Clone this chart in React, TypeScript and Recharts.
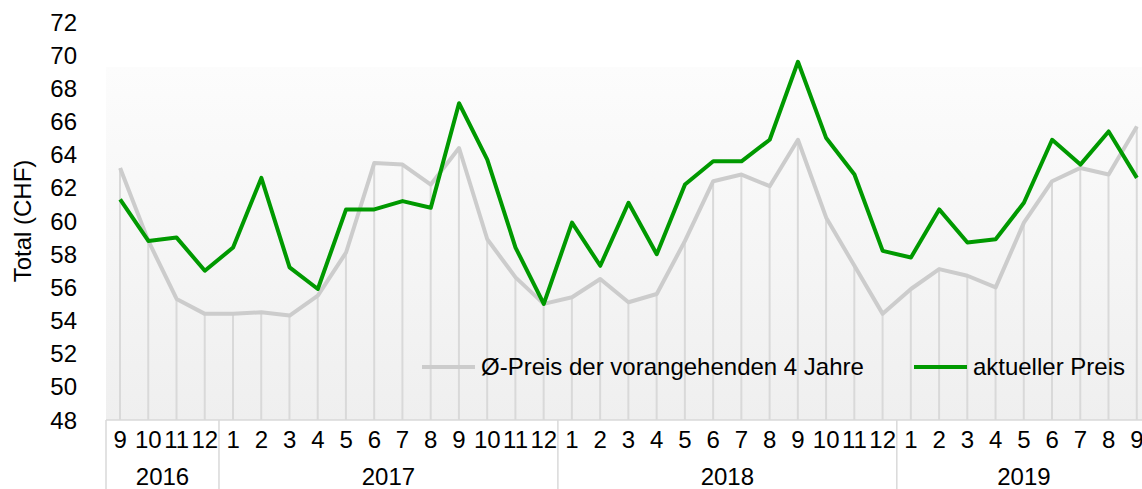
import React from "react";
import { ComposedChart, Line, Bar, XAxis, YAxis, CartesianGrid } from "recharts";

const monthLabels = [
  "9", "10", "11", "12",
  "1", "2", "3", "4", "5", "6", "7", "8", "9", "10", "11", "12",
  "1", "2", "3", "4", "5", "6", "7", "8", "9", "10", "11", "12",
  "1", "2", "3", "4", "5", "6", "7", "8", "9",
];

const yearLabels = [
  "2016", "2016", "2016", "2016",
  "2017", "2017", "2017", "2017", "2017", "2017", "2017", "2017", "2017", "2017", "2017", "2017",
  "2018", "2018", "2018", "2018", "2018", "2018", "2018", "2018", "2018", "2018", "2018", "2018",
  "2019", "2019", "2019", "2019", "2019", "2019", "2019", "2019", "2019",
];

// Ø-Preis der vorangehenden 4 Jahre
const avgPrice = [
  63.2, 58.8, 55.3, 54.4,
  54.4, 54.5, 54.3, 55.5, 58.1, 63.5, 63.4, 62.2, 64.4, 58.9, 56.6, 55.0,
  55.4, 56.5, 55.1, 55.6, 58.8, 62.4, 62.8, 62.1, 64.9, 60.2, 57.3, 54.4,
  55.9, 57.1, 56.7, 56.0, 59.9, 62.4, 63.2, 62.8, 65.7,
];

// aktueller Preis
const currentPrice = [
  61.3, 58.8, 59.0, 57.0,
  58.4, 62.6, 57.2, 55.9, 60.7, 60.7, 61.2, 60.8, 67.1, 63.7, 58.4, 55.0,
  59.9, 57.3, 61.1, 58.0, 62.2, 63.6, 63.6, 64.9, 69.6, 65.0, 62.8, 58.2,
  57.8, 60.7, 58.7, 58.9, 61.1, 64.9, 63.4, 65.4, 62.6,
];

const yTicks = [48, 50, 52, 54, 56, 58, 60, 62, 64, 66, 68, 70, 72];

const seriesNames = ["Ø-Preis der vorangehenden 4 Jahre", "aktueller Preis"];
const seriesColors = ["#cccccc", "#009900"];

const data = monthLabels.map((m, i) => ({
  key: `${yearLabels[i]}-${m}`,
  avg: avgPrice[i],
  cur: currentPrice[i],
}));

const CHART_W = 1151;
const CHART_H = 489;
const Y_AXIS_W = 106;
const BAND = (CHART_W - Y_AXIS_W) / monthLabels.length;
const FONT = "'Liberation Sans', Arial, sans-serif";

const MonthYearTick = (props: any) => {
  const { x, y, payload } = props;
  const i: number = props.index ?? payload.index;
  const year = yearLabels[i];
  let start = i;
  while (start > 0 && yearLabels[start - 1] === year) start--;
  let end = i;
  while (end < yearLabels.length - 1 && yearLabels[end + 1] === year) end++;
  const count = end - start + 1;
  const mid = start + Math.floor((count - 1) / 2);
  const yearX = x + ((count - 1) / 2 - Math.floor((count - 1) / 2)) * BAND;
  return (
    <g>
      <text x={x} y={y + 28} textAnchor="middle" fill="#000" fontSize={24} fontFamily={FONT}>
        {monthLabels[i]}
      </text>
      {start === i && (
        <line x1={x - BAND / 2} x2={x - BAND / 2} y1={y} y2={y + 69} stroke="#d9d9d9" strokeWidth={1.5} />
      )}
      {i === mid && (
        <text x={yearX} y={y + 65} textAnchor="middle" fill="#000" fontSize={24} fontFamily={FONT}>
          {year}
        </text>
      )}
    </g>
  );
};

const LegendBox = () => (
  <div
    style={{
      position: "absolute",
      top: 353,
      left: 422,
      display: "flex",
      alignItems: "center",
      fontFamily: FONT,
      fontSize: 24,
      lineHeight: "28px",
      color: "#000",
      whiteSpace: "nowrap",
    }}
  >
    {seriesNames.map((name, i) => (
      <div key={name} style={{ display: "flex", alignItems: "center", marginRight: i === 0 ? 50 : 0 }}>
        <svg width={53} height={6} style={{ marginRight: 6 }}>
          <line x1={0} x2={53} y1={3} y2={3} stroke={seriesColors[i]} strokeWidth={4} />
        </svg>
        <span>{name}</span>
      </div>
    ))}
  </div>
);

const App = () => {
  return (
    <div
      style={{
        position: "absolute",
        left: 0,
        top: 0,
        width: 1142,
        height: 489,
        overflow: "hidden",
        background: "#fff",
        fontFamily: FONT,
      }}
    >
      <ComposedChart width={CHART_W} height={CHART_H} data={data} margin={{ top: 22, right: 0, bottom: 0, left: 0 }}>
        <defs>
          <linearGradient id="plotBg" x1="0" y1="0" x2="0" y2="1">
            <stop offset="0" stopColor="#ffffff" />
            <stop offset="0.112" stopColor="#ffffff" />
            <stop offset="0.114" stopColor="#fcfcfc" />
            <stop offset="1" stopColor="#efefef" />
          </linearGradient>
        </defs>
        <CartesianGrid horizontal={false} vertical={false} fill="url(#plotBg)" />
        <XAxis
          dataKey="key"
          interval={0}
          height={69}
          tickLine={false}
          tickSize={0}
          tickMargin={0}
          axisLine={{ stroke: "#d9d9d9", strokeWidth: 1.5 }}
          tick={<MonthYearTick />}
        />
        <YAxis
          domain={[48, 72]}
          ticks={yTicks}
          width={Y_AXIS_W}
          axisLine={false}
          tickLine={false}
          tickSize={0}
          tickMargin={29}
          tick={{ fill: "#000", fontSize: 24, fontFamily: FONT }}
          label={{
            value: "Total (CHF)",
            angle: -90,
            position: "insideLeft",
            offset: 22,
            style: { textAnchor: "middle", fill: "#000", fontSize: 24, fontFamily: FONT },
          }}
        />
        <Bar dataKey="avg" barSize={2} fill="#d9d9d9" isAnimationActive={false} />
        <Line
          type="linear"
          dataKey="avg"
          name={seriesNames[0]}
          stroke={seriesColors[0]}
          strokeWidth={4}
          dot={false}
          strokeLinejoin="round"
          isAnimationActive={false}
        />
        <Line
          type="linear"
          dataKey="cur"
          name={seriesNames[1]}
          stroke={seriesColors[1]}
          strokeWidth={4}
          dot={false}
          strokeLinejoin="round"
          isAnimationActive={false}
        />
      </ComposedChart>
      <LegendBox />
    </div>
  );
};

export default App;
